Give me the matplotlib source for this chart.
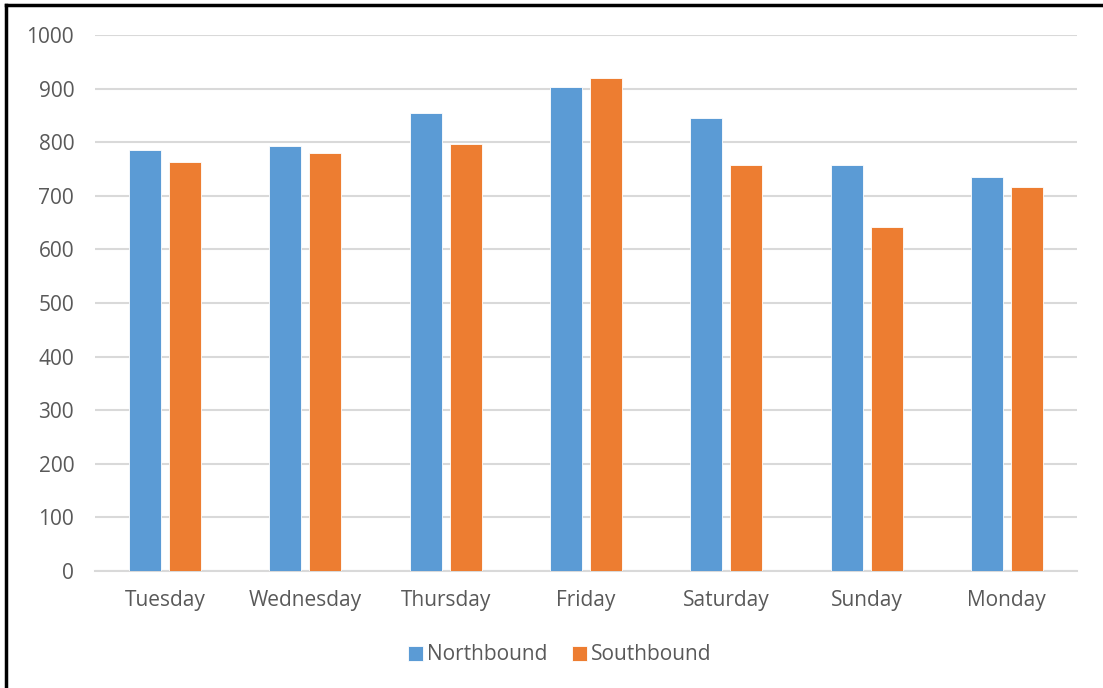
import matplotlib
matplotlib.use("Agg")
import matplotlib.pyplot as plt
import numpy as np
from matplotlib.lines import Line2D

categories = ["Tuesday", "Wednesday", "Thursday", "Friday", "Saturday", "Sunday", "Monday"]
northbound = [785, 792, 854, 903, 845, 757, 735]
southbound = [763, 779, 796, 919, 758, 642, 717]
yticks = [0, 100, 200, 300, 400, 500, 600, 700, 800, 900, 1000]

blue = "#5B9BD5"
orange = "#ED7D31"
txt = "#595959"

plt.rcParams['font.family'] = ['Liberation Sans Narrow', 'Open Sans', 'DejaVu Sans']

W, H = 1103, 688
fig = plt.figure(figsize=(W/100, H/100), dpi=100)
ax = fig.add_axes([95/W, (H-571)/H, (1077-95)/W, (571-35)/H])

x = np.arange(len(categories))
bw = 0.228
off = (bw + 0.057) / 2
ax.bar(x - off, northbound, bw, color=blue, edgecolor="white", linewidth=0.6, label="Northbound", zorder=3)
ax.bar(x + off, southbound, bw, color=orange, edgecolor="white", linewidth=0.6, label="Southbound", zorder=3)

ax.set_xlim(-0.5, len(categories) - 0.5)
ax.set_ylim(0, 1000)
ax.set_yticks(yticks)
ax.set_yticklabels([str(v) for v in yticks])
ax.set_xticks(x)
ax.set_xticklabels(categories)
ax.yaxis.grid(True, color="#D9D9D9", linewidth=1.5, zorder=0)
ax.set_axisbelow(True)
for s in ["top", "right", "left"]:
    ax.spines[s].set_visible(False)
ax.spines["bottom"].set_color("#D9D9D9")
ax.spines["bottom"].set_linewidth(1.5)
ax.tick_params(axis="both", length=0, labelsize=15, labelcolor=txt)
ax.tick_params(axis="x", pad=14)
ax.tick_params(axis="y", pad=15)

leg = fig.legend(loc="center", bbox_to_anchor=(560/W, (H-655)/H), ncol=2, frameon=False,
                 fontsize=15, handlelength=0.7, handleheight=0.7, handletextpad=0.2, columnspacing=1.2,
                 labelcolor=txt)

# outer border (left and top)
fig.add_artist(Line2D([6/W, 6/W], [0, 1 - 5/H], transform=fig.transFigure, color="black", linewidth=2.5))
fig.add_artist(Line2D([6/W, 1], [1 - 5/H, 1 - 5/H], transform=fig.transFigure, color="black", linewidth=2.5))

fig.savefig("out.png", dpi=100)
